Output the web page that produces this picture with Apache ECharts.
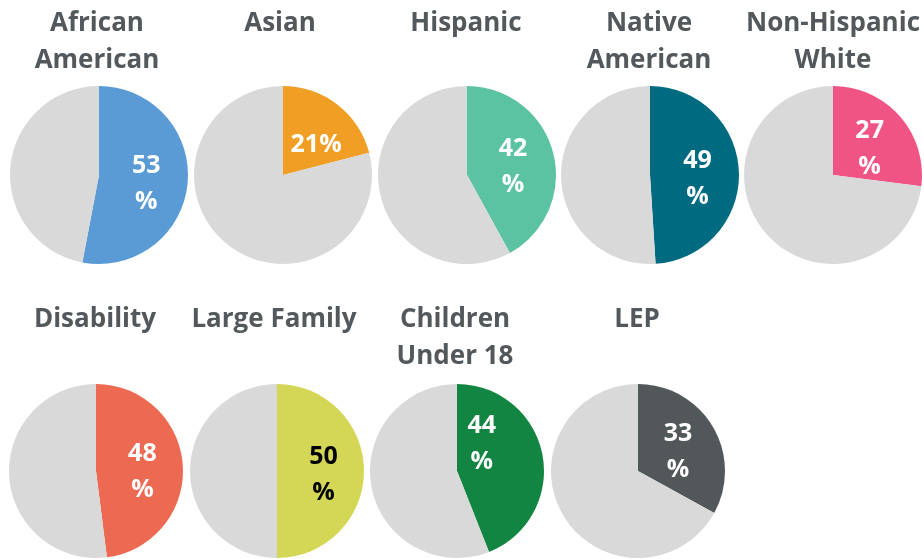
<!DOCTYPE html>
<html>
<head>
<meta charset="utf-8">
<script src="https://cdn.jsdelivr.net/npm/echarts@6/dist/echarts.min.js"></script>
<style>html,body{margin:0;padding:0;background:#fff;}#c{width:924px;height:559px;}</style>
</head>
<body>
<div id="c"></div>
<script>
const categories = ["African\nAmerican", "Asian", "Hispanic", "Native\nAmerican", "Non-Hispanic\nWhite",
                    "Disability", "Large Family", "Children\nUnder 18", "LEP"];
const values = [53, 21, 42, 49, 27, 48, 50, 44, 33];
const labelTexts = ["53\n%", "21%", "42\n%", "49\n%", "27\n%", "48\n%", "50\n%", "44\n%", "33\n%"];
const colors = ["#5b9bd5", "#f19e24", "#5bc3a1", "#006b80", "#ef5485", "#eb6a51", "#d4d655", "#118541", "#52575a"];
const labelColors = ["#fff", "#fff", "#fff", "#fff", "#fff", "#fff", "#000", "#fff", "#fff"];

const layout = [
  {cx: 99, cy: 175, r: 89, tx: 97, ty: 5},
  {cx: 283, cy: 175, r: 89, tx: 280, ty: 5},
  {cx: 467, cy: 175, r: 89, tx: 466, ty: 5},
  {cx: 650, cy: 175, r: 89, tx: 649, ty: 5},
  {cx: 833, cy: 175, r: 89, tx: 833, ty: 5},
  {cx: 96, cy: 471, r: 87, tx: 95, ty: 301},
  {cx: 277, cy: 471, r: 87, tx: 274, ty: 301},
  {cx: 457, cy: 471, r: 87, tx: 455, ty: 301},
  {cx: 638, cy: 471, r: 87, tx: 637, ty: 301}
];
const labelOffsets = [[0, 4], [4, 7], [0, 4], [0, 5], [1, 5], [0, 4], [0, 4], [-21, -18], [0, 5]];

const chart = echarts.init(document.getElementById('c'), null, {renderer: 'canvas'});
const titles = [];
const series = [];
categories.forEach((cat, i) => {
  const L = layout[i];
  titles.push({
    text: cat,
    left: L.tx,
    top: L.ty,
    padding: 0,
    textAlign: 'center',
    textStyle: {fontFamily: 'Open Sans', fontWeight: 'bold', fontSize: 26, lineHeight: 37, color: '#52585b'}
  });
  series.push({
    type: 'pie',
    center: [L.cx, L.cy],
    radius: [0, L.r],
    startAngle: 90,
    clockwise: true,
    silent: true,
    emphasis: {disabled: true},
    labelLine: {show: false},
    itemStyle: {borderWidth: 0},
    data: [
      {value: values[i], name: cat, itemStyle: {color: colors[i]},
       label: {
         show: true, position: 'inside',
         formatter: () => labelTexts[i],
         offset: labelOffsets[i],
         fontFamily: 'Open Sans', fontWeight: 'bold', fontSize: 25, lineHeight: 36,
         color: labelColors[i], textBorderWidth: 0
       }},
      {value: 100 - values[i], name: 'rest', itemStyle: {color: '#d9d9d9'}, label: {show: false}}
    ]
  });
});

chart.setOption({
  animation: false,
  backgroundColor: '#ffffff',
  title: titles,
  series: series
});
</script>
</body>
</html>
